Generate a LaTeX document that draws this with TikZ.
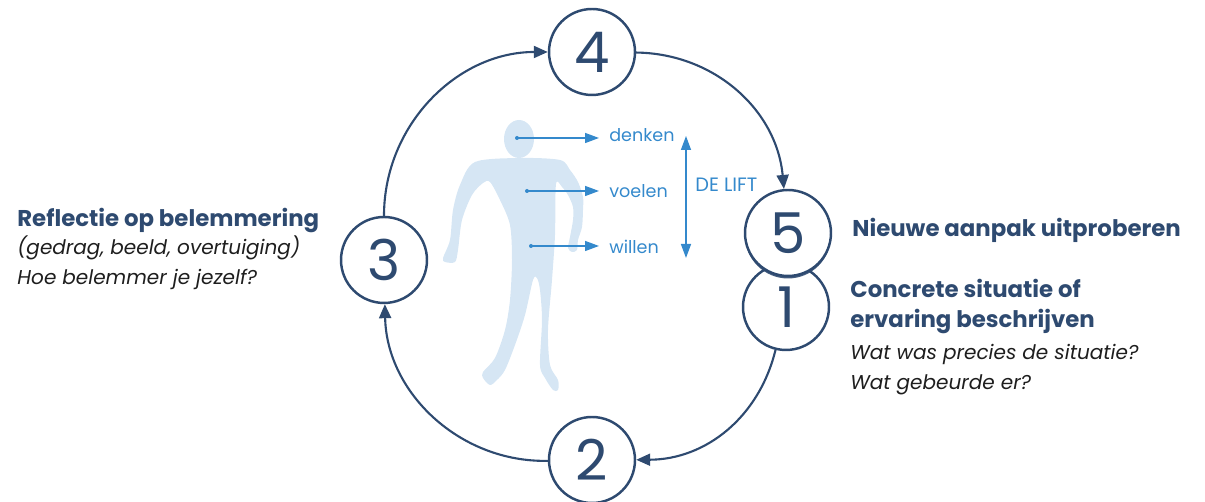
\documentclass[tikz,border=0pt]{standalone}
\usepackage{fontspec}
\setmainfont{Poppins}
\usetikzlibrary{arrows.meta,shadows}

\definecolor{navy}{RGB}{46,74,112}
\definecolor{liftblue}{RGB}{52,137,204}
\definecolor{bodyblue}{RGB}{214,230,244}
\definecolor{ink}{RGB}{30,30,30}

\begin{document}
\begin{tikzpicture}[x=0.02cm,y=0.02cm,
  stepnode/.style={circle,draw=navy,line width=1.4pt,fill=white,minimum size=1.72cm,
    inner sep=0pt,text=navy,font=\fontsize{32}{32}\selectfont},
  cycle/.style={draw=navy,line width=1.2pt,-{Triangle[length=0.28cm,width=0.24cm]}},
  lift/.style={draw=liftblue,line width=0.8pt,-{Triangle[length=0.28cm,width=0.2cm]}},
  title/.style={text=navy,font=\fontsize{13}{15}\selectfont\bfseries,anchor=base west,inner sep=0pt},
  sub/.style={text=ink,font=\fontsize{11.4}{14}\selectfont\itshape,anchor=base west,inner sep=0pt},
  word/.style={text=liftblue,font=\fontsize{10}{12}\selectfont,anchor=base west,inner sep=0pt}]
\useasboundingbox (0,0) rectangle (1205,502);

% the figure
\fill[bodyblue] (519,363) ellipse (15 and 19);
\fill[bodyblue] plot[smooth cycle,tension=0.5] coordinates {
  (475,340) (460,317) (453,292) (450,262) (443,244) (445,240) (455,240) (458,252)
  (462,282) (472,307) (483,319) (490,320) (500,302) (510,277) (512,242) (510,202)
  (505,172) (495,144) (483,130) (483,124) (490,117) (497,122) (505,132) (515,157)
  (525,187) (533,222) (537,224) (540,212) (542,182) (540,137) (545,124) (553,112)
  (558,112) (558,122) (550,137) (548,172) (552,222) (555,267) (556,318)
  (562,315) (568,307) (573,295) (573,282) (570,265) (568,254) (572,250) (577,252)
  (578,262) (582,275) (583,292) (583,305) (578,320) (570,332) (560,342) (520,344)};

% thinking, feeling, willing
\coordinate (denkdot) at (517,364);
\coordinate (voeldot) at (527,311);
\coordinate (wildot)  at (531,256);
\coordinate (denkend) at (599,364);
\coordinate (voelend) at (599,311);
\coordinate (wilend)  at (599,256);
\fill[liftblue] (denkdot) circle (2) (voeldot) circle (2) (wildot) circle (2);
\draw[lift] (denkdot) -- (denkend);
\draw[lift] (voeldot) -- (voelend);
\draw[lift] (wildot) -- (wilend);
\node[word] (denk) at (609,360) {denken};
\node[word] (voel) at (609,304) {voelen};
\node[word] (wil)  at (609,248) {willen};

\coordinate (lifttop) at (686,366);
\coordinate (liftbot) at (686,244);
\draw[lift,{Triangle[length=0.28cm,width=0.2cm]}-{Triangle[length=0.28cm,width=0.2cm]}] (lifttop) -- (liftbot);
\node[word,font=\fontsize{11}{12}\selectfont] (lift) at (695,310) {DE LIFT};

% the five steps
\node[stepnode] (n1) at (786,195) {1};
\node[stepnode] (n2) at (592,42) {2};
\node[stepnode] (n3) at (384,242) {3};
\node[stepnode] (n4) at (592,450) {4};
\node[stepnode,drop shadow={shadow xshift=0pt,shadow yshift=-0.05cm,fill=navy,opacity=0.9}]
  (n5) at (788,269) {5};

\draw[cycle] (n1) to[bend left=38] (n2);
\draw[cycle] (n2) to[bend left=45] (n3);
\draw[cycle] (n3) to[bend left=45] (n4);
\draw[cycle] (n4) to[bend left=42] (n5);

% texts
\node[title] (t3) at (17,275) {Reflectie op belemmering};
\node[sub] (s3a) at (17,247) {(gedrag, beeld, overtuiging)};
\node[sub] (s3b) at (17,217) {Hoe belemmer je jezelf?};

\node[title] (t5) at (852,265) {Nieuwe aanpak uitproberen};

\node[title] (t1a) at (850,204) {Concrete situatie of};
\node[title] (t1b) at (850,174) {ervaring beschrijven};
\node[sub] (s1a) at (850,142) {Wat was precies de situatie?};
\node[sub] (s1b) at (850,112) {Wat gebeurde er?};
\end{tikzpicture}
\end{document}
